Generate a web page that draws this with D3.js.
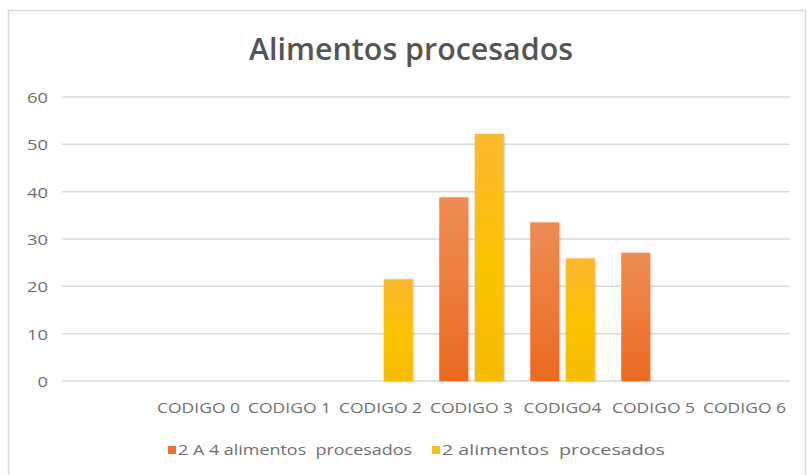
<!DOCTYPE html>
<html>
<head>
<meta charset="utf-8">
<script src="https://cdn.jsdelivr.net/npm/d3@7/dist/d3.min.js"></script>
<style>
  html, body { margin: 0; padding: 0; background: #fff; }
  svg { display: block; }
  text { font-family: "Open Sans", "Noto Sans", sans-serif; }
</style>
</head>
<body>
<svg id="chart" width="807" height="475"></svg>
<script>
// Chart data
const title = "Alimentos procesados";
const categories = ["CODIGO 0", "CODIGO 1", "CODIGO 2", "CODIGO 3", "CODIGO4", "CODIGO 5", "CODIGO 6"];
const seriesNames = ["2 A 4 alimentos  procesados", "2 alimentos  procesados"];
const seriesA = [null, null, null, 38.8, 33.5, 27.1, null];   // 2 A 4 alimentos procesados
const seriesB = [null, null, 21.5, 52.2, 25.9, null, null];   // 2 alimentos procesados
const yTicks = [0, 10, 20, 30, 40, 50, 60];

const seriesValues = [seriesA, seriesB];
const seriesKeys = ["a", "b"];

const svg = d3.select("#chart");

// Outer chart frame
svg.append("rect")
  .attr("x", 8.5).attr("y", 10.5)
  .attr("width", 797).attr("height", 470)
  .attr("fill", "#fff").attr("stroke", "#d9d9d9").attr("stroke-width", 1.5);

// Gradients for the bars
const defs = svg.append("defs");
const grads = [
  { id: "gA", top: "#ee8d55", bottom: "#ea6a1f" },
  { id: "gB", top: "#fbb92f", mid: "#fac300", bottom: "#f4bb06" }
];
grads.forEach(g => {
  const lg = defs.append("linearGradient").attr("id", g.id)
    .attr("x1", 0).attr("y1", 0).attr("x2", 0).attr("y2", 1);
  lg.append("stop").attr("offset", "0%").attr("stop-color", g.top);
  if (g.mid) lg.append("stop").attr("offset", "55%").attr("stop-color", g.mid);
  lg.append("stop").attr("offset", "100%").attr("stop-color", g.bottom);
});
const shadow = defs.append("filter").attr("id", "shadow")
  .attr("x", "-20%").attr("y", "-10%").attr("width", "140%").attr("height", "120%");
shadow.append("feDropShadow")
  .attr("dx", 1).attr("dy", 0.5).attr("stdDeviation", 1)
  .attr("flood-color", "#000").attr("flood-opacity", 0.22);

// Scales: the first band is an empty slot before CODIGO 0
const domain = [""].concat(categories);
const x = d3.scaleBand().domain(domain).range([62, 790]).paddingInner(0).paddingOuter(0);
const xSub = d3.scaleBand().domain(seriesKeys).range([0, x.bandwidth()])
  .paddingInner(0.183).paddingOuter(0.373);
const y = d3.scaleLinear().domain([0, 60]).range([381, 97]);

// Gridlines
svg.append("g")
  .selectAll("line").data(yTicks).join("line")
  .attr("x1", 62).attr("x2", 790)
  .attr("y1", d => y(d)).attr("y2", d => y(d))
  .attr("stroke", "#d9d9d9").attr("stroke-width", 1.5);

// Y axis labels
const yAxis = svg.append("g")
  .attr("transform", "translate(48,0)")
  .call(d3.axisLeft(y).tickValues(yTicks).tickSize(0).tickPadding(0).tickFormat(d3.format("d")));
yAxis.select(".domain").remove();
yAxis.selectAll("text")
  .attr("font-size", 15).attr("fill", "#6f6f6f")
  .attr("font-family", "'Open Sans', sans-serif")
  .attr("dy", "0.36em")
  .attr("textLength", d => d >= 10 ? 21 : 10.5)
  .attr("lengthAdjust", "spacingAndGlyphs");

// Bars
const bars = [];
categories.forEach((c, i) => {
  seriesValues.forEach((vals, s) => {
    if (vals[i] != null) bars.push({ cat: c, key: seriesKeys[s], value: vals[i], fill: "url(#" + grads[s].id + ")" });
  });
});
svg.append("g").selectAll("rect").data(bars).join("rect")
  .attr("x", d => x(d.cat) + xSub(d.key))
  .attr("width", xSub.bandwidth())
  .attr("y", d => y(d.value))
  .attr("height", d => y(0) - y(d.value))
  .attr("fill", d => d.fill)
  .attr("filter", "url(#shadow)");

// X axis labels
const xAxis = svg.append("g")
  .attr("transform", "translate(0,381)")
  .call(d3.axisBottom(x).tickValues(categories).tickSize(0).tickPadding(0));
xAxis.select(".domain").remove();
xAxis.selectAll("text")
  .attr("font-size", 15).attr("fill", "#6f6f6f")
  .attr("font-family", "'Open Sans', sans-serif")
  .attr("dy", 0).attr("y", 32)
  .attr("textLength", d => d === "CODIGO4" ? 78 : 83)
  .attr("lengthAdjust", "spacingAndGlyphs");

// Title
svg.append("text")
  .attr("x", 411).attr("y", 60)
  .attr("text-anchor", "middle")
  .attr("font-size", 30).attr("font-weight", 600).attr("fill", "#555555")
  .attr("textLength", 324).attr("lengthAdjust", "spacingAndGlyphs")
  .text(title);

// Legend
const legendItems = [
  { name: seriesNames[0], color: "#ec7330", x: 168, tl: 234 },
  { name: seriesNames[1], color: "#f8c11a", x: 432, tl: 223 }
];
const lg = svg.append("g");
legendItems.forEach(it => {
  lg.append("rect").attr("x", it.x).attr("y", 446).attr("width", 8).attr("height", 8).attr("fill", it.color);
  lg.append("text").attr("x", it.x + 10).attr("y", 455)
    .attr("font-size", 15).attr("fill", "#6f6f6f")
    .attr("textLength", it.tl).attr("lengthAdjust", "spacingAndGlyphs")
    .style("white-space", "pre")
    .text(it.name);
});
</script>
</body>
</html>
